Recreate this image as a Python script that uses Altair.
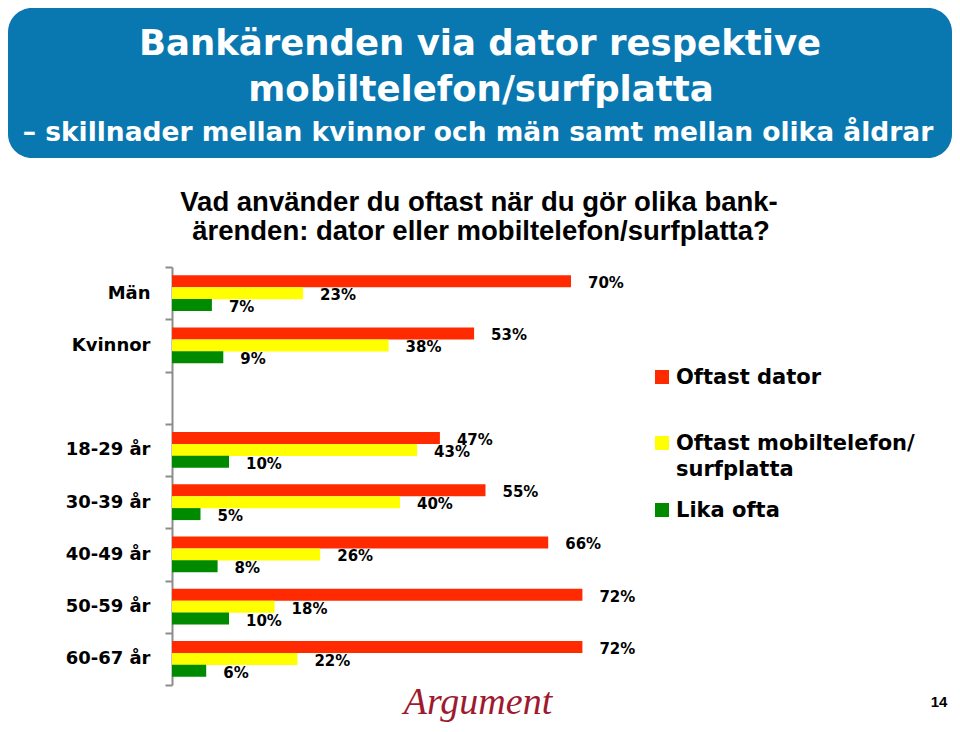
import altair as alt
import pandas as pd

# ---- data ----
categories = ["Män", "Kvinnor", "18-29 år", "30-39 år", "40-49 år", "50-59 år", "60-67 år"]
series = ["Oftast dator", "Oftast mobiltelefon/surfplatta", "Lika ofta"]
dator = [70, 53, 47, 55, 66, 72, 72]
mobil = [23, 38, 43, 40, 26, 18, 22]
lika = [7, 9, 10, 5, 8, 10, 6]
colors = ["#FF2A00", "#FFFF00", "#008A00"]

y_domain = ["Män", "Kvinnor", " ", "18-29 år", "30-39 år", "40-49 år", "50-59 år", "60-67 år"]

rows = []
for i, c in enumerate(categories):
    for s, vals in zip(series, [dator, mobil, lika]):
        rows.append({"category": c, "series": s, "value": vals[i], "label": f"{vals[i]}%"})
df = pd.DataFrame(rows)

# plot origin in page coordinates
OX, OY = 172, 267
def px(x):
    return x - OX
def py(y):
    return y - OY

y_enc = alt.Y("category:N", scale=alt.Scale(domain=y_domain, paddingInner=0, paddingOuter=0),
              axis=alt.Axis(title=None, tickBand="extent", labelFont="DejaVu Sans",
                            labelFontWeight="bold", labelFontSize=18, labelColor="#000000",
                            domainColor="#8c8c8c", domainWidth=2, tickColor="#8c8c8c",
                            tickWidth=2, tickSize=7, labelPadding=15, grid=False))
yoff = alt.YOffset("series:N", sort=series,
                   scale=alt.Scale(domain=series, paddingInner=0, paddingOuter=0.68))
x_enc = alt.X("value:Q", scale=alt.Scale(domain=[0, 100]), axis=None)

base = alt.Chart(df)
bars = base.mark_bar(size=12).encode(
    y=y_enc, yOffset=yoff, x=x_enc,
    color=alt.Color("series:N", scale=alt.Scale(domain=series, range=colors), legend=None),
)
labels = base.mark_text(align="left", baseline="middle", dx=17, dy=2, font="DejaVu Sans",
                        fontWeight="bold", fontSize=15, color="#000000").encode(
    y=y_enc, yOffset=yoff, x=x_enc, text="label:N"
)

# ---- decorations ----
one = pd.DataFrame({"k": [0]})
box = alt.Chart(one).mark_rect(cornerRadius=24, color="#0A78B0").encode(
    x=alt.value(px(8)), x2=alt.value(px(952)), y=alt.value(py(8)), y2=alt.value(py(158))
)

def text_layer(t, x, y, size, color="#000000", font="DejaVu Sans", weight="bold",
               align="center", style="normal"):
    return alt.Chart(pd.DataFrame({"t": [t]})).mark_text(
        align=align, baseline="alphabetic", font=font, fontWeight=weight, fontSize=size,
        color=color, fontStyle=style
    ).encode(x=alt.value(px(x)), y=alt.value(py(y)), text="t:N")

titles = [
    text_layer("Bankärenden via dator respektive", 480, 55, 35.5, color="#FFFFFF"),
    text_layer("mobiltelefon/surfplatta", 481, 101, 35.5, color="#FFFFFF"),
    text_layer("– skillnader mellan kvinnor och män samt mellan olika åldrar", 478, 141, 26.5,
               color="#FFFFFF"),
    text_layer("Vad använder du oftast när du gör olika bank-", 479, 211, 27.5,
               font="Liberation Sans"),
    text_layer("ärenden: dator eller mobiltelefon/surfplatta?", 481, 240, 27.5,
               font="Liberation Sans"),
    text_layer("Argument", 478, 714, 38, color="#9E1A2E", font="Liberation Serif",
               weight="normal", style="italic"),
    text_layer("14", 939, 707, 15, font="Liberation Sans"),
]

# manual legend
leg_sq = []
leg_txt = []
sq_y = [377, 443, 510]
for s, c, yy in zip(series, colors, sq_y):
    leg_sq.append(alt.Chart(pd.DataFrame({"s": [s]})).mark_square(size=196, color=c, opacity=1,
                                                                   filled=True).encode(
        x=alt.value(px(662)), y=alt.value(py(yy))))
leg_txt.append(text_layer("Oftast dator", 676, 384, 21, align="left"))
leg_txt.append(text_layer("Oftast mobiltelefon/", 676, 450, 21, align="left"))
leg_txt.append(text_layer("surfplatta", 676, 476, 21, align="left"))
leg_txt.append(text_layer("Lika ofta", 676, 517, 21, align="left"))

chart = alt.layer(box, *titles, bars, labels, *leg_sq, *leg_txt).properties(
    width=570, height=418,
    padding={"left": OX - 8, "top": OY - 8, "right": 944 - (OX - 8) - 570,
             "bottom": 716 - (OY - 8) - 418},
    autosize="none",
    background="#FFFFFF",
).configure_view(stroke=None)

chart.save("out.html", embed_options={"renderer": "svg", "actions": False})
